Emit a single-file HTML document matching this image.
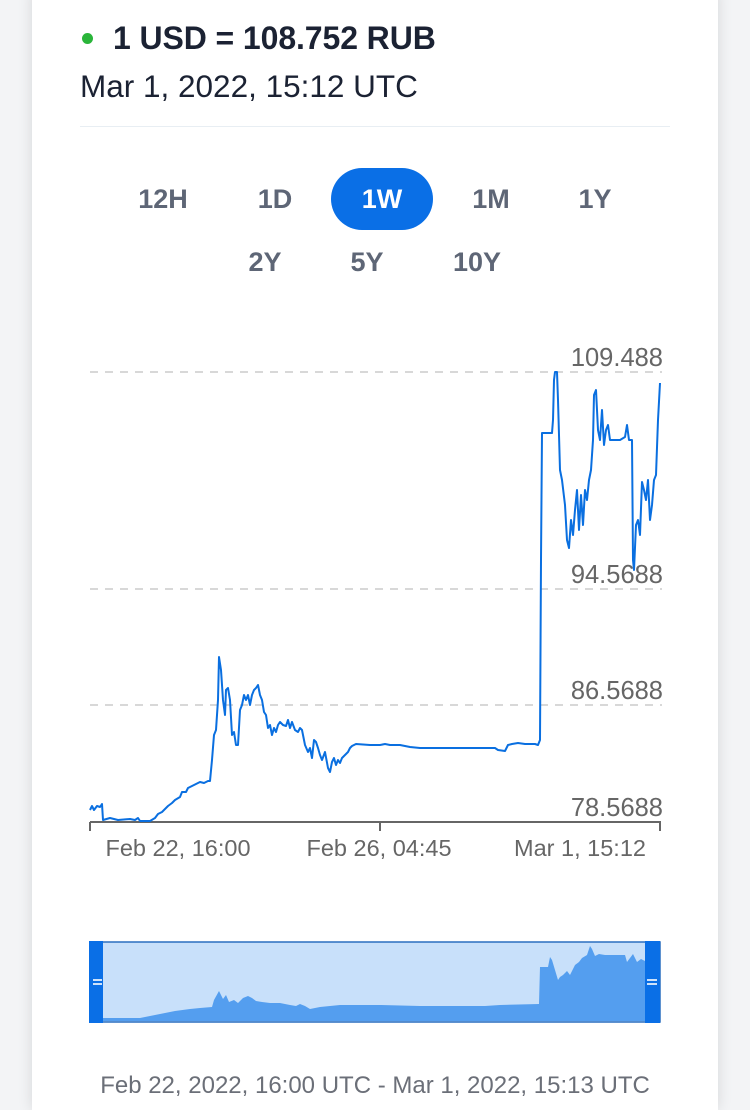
<!DOCTYPE html>
<html><head><meta charset="utf-8"><style>
html,body{margin:0;padding:0;background:#f3f4f6;}
body{width:750px;height:1097px;position:relative;overflow:hidden;font-family:"Liberation Sans",Arial,sans-serif;}
.card{position:absolute;left:32px;top:-10px;width:686px;height:1120px;background:#fff;box-shadow:0 0 14px rgba(0,0,0,0.12);}
.t1{position:absolute;left:113px;top:20px;font-size:32px;font-weight:bold;color:#1b2233;letter-spacing:-0.1px;}
.dot{position:absolute;left:82px;top:33px;width:11px;height:11px;border-radius:50%;background:#2ab53a;}
.t2{position:absolute;left:80px;top:68px;font-size:31.5px;color:#1b2233;}
.hr{position:absolute;left:80px;top:126px;width:590px;height:1px;background:#e8eef3;}
.b{position:absolute;font-size:27px;font-weight:bold;color:#5e6676;text-align:center;width:80px;}
.sel{position:absolute;left:331px;top:168px;width:102px;height:62px;border-radius:31px;background:#0a6fe6;}
.foot{position:absolute;left:0;width:750px;top:1072px;text-align:center;font-size:24px;color:#6b6f78;}
</style></head><body>
<div class="card"></div>
<div class="dot"></div>
<div class="t1">1 USD = 108.752 RUB</div>
<div class="t2">Mar 1, 2022, 15:12 UTC</div>
<div class="hr"></div>
<div class="sel"></div>
<div class="b" style="left:123px;top:184px">12H</div>
<div class="b" style="left:235px;top:184px">1D</div>
<div class="b" style="left:342px;top:184px;color:#fff">1W</div>
<div class="b" style="left:451px;top:184px">1M</div>
<div class="b" style="left:555px;top:184px">1Y</div>
<div class="b" style="left:225px;top:247px">2Y</div>
<div class="b" style="left:327px;top:247px">5Y</div>
<div class="b" style="left:437px;top:247px">10Y</div>
<svg width="750" height="1097" style="position:absolute;left:0;top:0" font-family="Liberation Sans, Arial, sans-serif">
<g stroke="#ccc" stroke-width="1.5" stroke-dasharray="8,7">
<line x1="90" y1="372" x2="662" y2="372"/><line x1="90" y1="589" x2="662" y2="589"/><line x1="90" y1="705" x2="662" y2="705"/>
</g>
<g font-size="25.5" fill="#666" text-anchor="end">
<text x="663" y="366">109.488</text><text x="663" y="583">94.5688</text><text x="663" y="699">86.5688</text><text x="663" y="816">78.5688</text>
</g>
<g stroke="#666" stroke-width="2" fill="none"><line x1="90" y1="822" x2="661" y2="822"/><line x1="90" y1="822" x2="90" y2="831"/><line x1="380" y1="822" x2="380" y2="831"/><line x1="660" y1="822" x2="660" y2="831"/></g>
<g font-size="23.5" fill="#666" text-anchor="middle"><text x="178" y="856">Feb 22, 16:00</text><text x="379" y="856">Feb 26, 04:45</text><text x="580" y="856">Mar 1, 15:12</text></g>
<polyline fill="none" stroke="#0a6fe0" stroke-width="2" stroke-linejoin="round" points="90,810 92,806 94,810 97,806 100,807 102,804 103,820 110,818 118,820 130,819 135,820 138,818 140,821 150,821 155,818 158,814 162,812 168,806 172,803 175,800 180,797 182,792 186,792 188,788 192,786 196,784 200,782 204,783 208,781 210,781 212,760 214,735 216,730 218,700 219,657 221,670 223,700 225,715 226,690 228,688 230,700 232,735 234,732 236,745 238,745 240,710 242,705 244,695 246,700 248,695 250,705 252,695 254,690 256,688 258,685 260,695 262,700 264,712 266,715 268,728 270,725 272,735 274,728 276,732 278,725 280,722 283,725 286,726 288,720 290,728 292,722 295,730 298,732 300,728 302,730 305,745 308,752 310,748 312,758 314,740 316,742 318,748 320,755 322,760 325,752 328,768 330,772 332,762 334,758 336,765 338,760 340,763 342,758 345,755 348,752 350,748 352,746 356,744 370,745 380,745 385,744 390,745 400,745 405,746 410,747 420,748 480,748 495,748 498,750 505,751 508,745 512,744 518,743 525,744 535,744 538,745 540,740 541,560 542,433 552,433 553,420 554,380 555,372 557,372 558,400 560,470 562,480 565,505 567,540 569,548 571,520 573,535 575,510 577,490 579,530 581,495 583,525 585,490 587,500 589,480 591,470 593,440 594,395 596,390 598,430 600,440 602,410 604,445 606,430 608,425 610,440 615,440 620,440 625,437 627,425 629,440 632,440 633,560 634,570 636,525 638,520 640,535 642,482 644,490 646,500 648,480 650,520 652,505 654,480 656,475 658,420 660,383"/>
<rect x="90" y="942" width="570" height="80" fill="#c8e0fa" stroke="#2a6fbf" stroke-width="1.5"/>
<polygon fill="#549eef" points="103,1021 103,1018 140,1018 150,1016 165,1013 175,1011 190,1009 200,1008 212,1007 214,1000 219,991 223,999 226,995 229,1002 234,1000 238,1003 243,998 248,996 252,998 256,1001 262,1002 270,1003 280,1003 290,1005 296,1006 300,1004 305,1006 310,1009 315,1008 320,1007 330,1006 340,1005 380,1005 420,1006 470,1006 485,1006 500,1005 539,1004 540,967 548,967 550,957 552,960 555,970 558,980 560,977 563,975 567,971 570,975 575,965 579,962 582,958 587,955 590,946 592,949 595,956 599,954 605,955 615,955 625,955 627,962 630,958 633,954 637,962 641,959 645,961 648,956 654,952 658,956 658,1021"/>
<rect x="89" y="941" width="14" height="82" fill="#0a6fe6"/>
<rect x="645" y="941" width="15" height="82" fill="#0a6fe6"/>
<g stroke="#fff" stroke-width="1.6"><line x1="93" y1="980" x2="102" y2="980"/><line x1="93" y1="984" x2="102" y2="984"/><line x1="647" y1="980" x2="657" y2="980"/><line x1="647" y1="984" x2="657" y2="984"/></g>
</svg>
<div class="foot">Feb 22, 2022, 16:00 UTC - Mar 1, 2022, 15:13 UTC</div>
</body></html>
